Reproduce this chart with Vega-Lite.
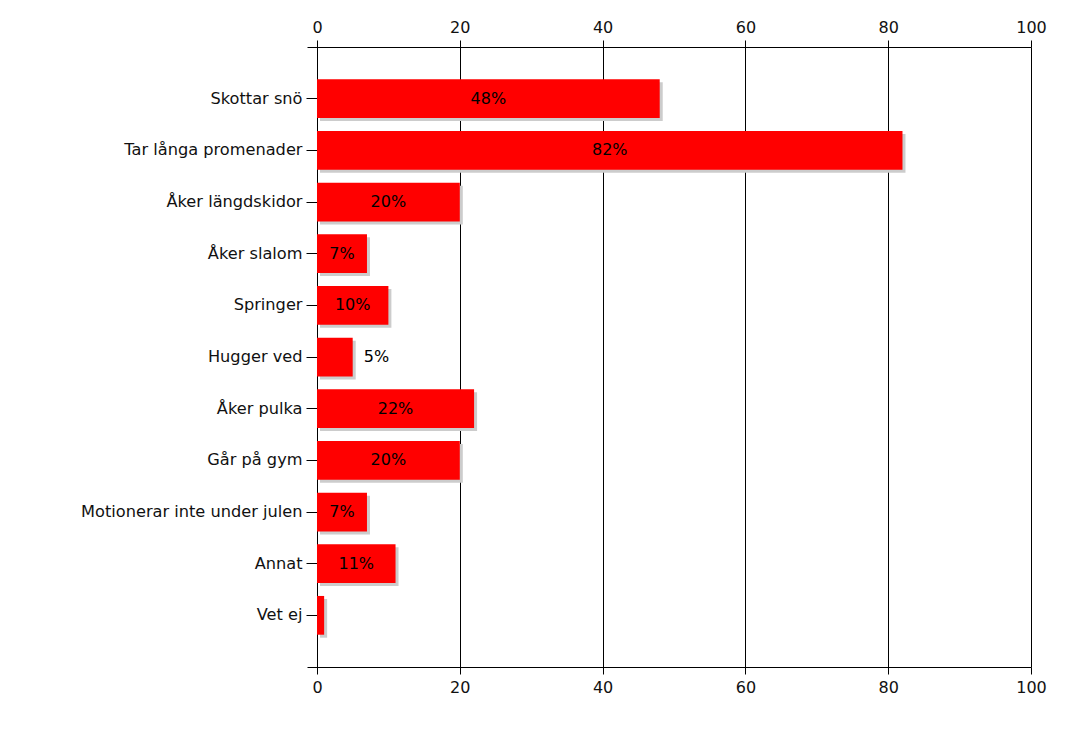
{
  "$schema": "https://vega.github.io/schema/vega-lite/v6.json",
  "width": 724,
  "height": 620,
  "autosize": {"type": "none"},
  "padding": {"left": 307, "top": 47, "right": 56, "bottom": 67},
  "background": "white",
  "config": {"view": {"stroke": null}, "font": "DejaVu Sans"},
  "data": {
    "values": [
      {"k": "Skottar snö", "v": 48},
      {"k": "Tar långa promenader", "v": 82},
      {"k": "Åker längdskidor", "v": 20},
      {"k": "Åker slalom", "v": 7},
      {"k": "Springer", "v": 10},
      {"k": "Hugger ved", "v": 5},
      {"k": "Åker pulka", "v": 22},
      {"k": "Går på gym", "v": 20},
      {"k": "Motionerar inte under julen", "v": 7},
      {"k": "Annat", "v": 11},
      {"k": "Vet ej", "v": 1}
    ]
  },
  "encoding": {
    "y": {
      "field": "k", "type": "nominal", "sort": null,
      "scale": {"paddingInner": 0.25, "paddingOuter": 0.625},
      "axis": {"title": null, "domain": false, "offset": -10, "tickSize": 11, "tickColor": "black",
               "labelFontSize": 16.2, "labelColor": "#111", "labelPadding": 4, "labelFont": "DejaVu Sans", "labelLimit": 400}
    }
  },
  "layer": [
    {
      "mark": {"type": "bar", "color": "#cccccc", "xOffset": 3, "yOffset": 3},
      "encoding": {
        "x": {"field": "v", "type": "quantitative", "scale": {"domain": [-1.4, 100], "nice": false, "zero": false},
              "axis": {"orient": "top", "values": [0, 20, 40, 60, 80, 100], "title": null, "grid": true, "labelFlush": false,
                       "gridColor": "black", "gridOpacity": 1, "domainColor": "black", "tickColor": "black",
                       "tickSize": 7, "labelFontSize": 16, "labelColor": "#111", "labelPadding": 5, "labelFont": "DejaVu Sans"}}
      }
    },
    {
      "mark": {"type": "bar", "color": "#ff0000"},
      "encoding": {
        "x": {"field": "v", "type": "quantitative",
              "axis": {"orient": "bottom", "values": [0, 20, 40, 60, 80, 100], "title": null, "grid": false, "labelFlush": false,
                       "domainColor": "black", "tickColor": "black",
                       "tickSize": 7, "labelFontSize": 16, "labelColor": "#111", "labelPadding": 5, "labelFont": "DejaVu Sans"}}
      }
    },
    {
      "transform": [{"filter": "datum.v >= 6"}, {"calculate": "datum.v / 2", "as": "mid"}, {"calculate": "datum.v + '%'", "as": "lab"}],
      "mark": {"type": "text", "fontSize": 16, "color": "black", "align": "center", "baseline": "middle", "font": "DejaVu Sans"},
      "encoding": {
        "x": {"field": "mid", "type": "quantitative", "axis": null},
        "text": {"field": "lab", "type": "nominal"}
      }
    },
    {
      "transform": [{"filter": "datum.v >= 2 && datum.v < 6"}, {"calculate": "datum.v + '%'", "as": "lab"}],
      "mark": {"type": "text", "fontSize": 16, "color": "black", "align": "left", "baseline": "middle", "dx": 11, "font": "DejaVu Sans"},
      "encoding": {
        "x": {"field": "v", "type": "quantitative", "axis": null},
        "text": {"field": "lab", "type": "nominal"}
      }
    }
  ],
  "resolve": {"axis": {"x": "independent"}}
}
